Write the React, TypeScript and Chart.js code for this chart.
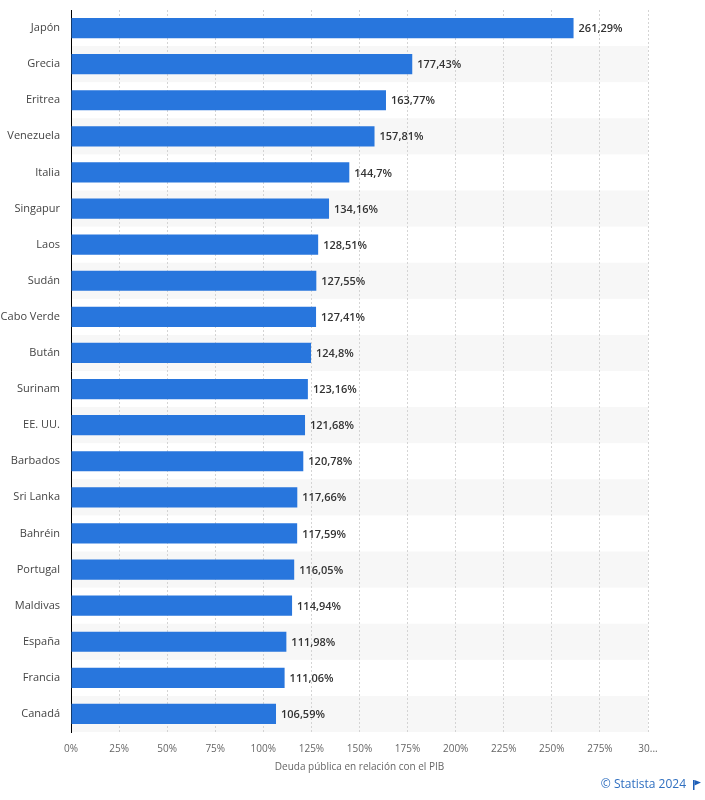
import React, { useEffect, useRef } from 'react';
import { Chart, registerables } from 'chart.js';

Chart.register(...registerables);

const countries = [
  'Japón', 'Grecia', 'Eritrea', 'Venezuela', 'Italia', 'Singapur', 'Laos', 'Sudán',
  'Cabo Verde', 'Bután', 'Surinam', 'EE. UU.', 'Barbados', 'Sri Lanka', 'Bahréin',
  'Portugal', 'Maldivas', 'España', 'Francia', 'Canadá',
];
const debtPct = [
  261.29, 177.43, 163.77, 157.81, 144.7, 134.16, 128.51, 127.55, 127.41, 124.8,
  123.16, 121.68, 120.78, 117.66, 117.59, 116.05, 114.94, 111.98, 111.06, 106.59,
];
const xTickLabels = ['0%', '25%', '50%', '75%', '100%', '125%', '150%', '175%', '200%', '225%', '250%', '275%', '30...'];
const axisTitle = 'Deuda pública en relación con el PIB';
const footerText = '© Statista 2024';

const FONT = "'Open Sans', 'DejaVu Sans', sans-serif";
const BAR_COLOR = '#2876dd';

const stripesPlugin = {
  id: 'stripes',
  beforeDraw(chart: any) {
    const { ctx, chartArea, scales } = chart;
    const y = scales.y;
    const n = countries.length;
    const step = (chartArea.bottom - chartArea.top) / n;
    ctx.save();
    ctx.fillStyle = '#f7f7f7';
    for (let i = 0; i < n; i++) {
      if (i % 2 === 1) {
        const c = y.getPixelForValue(i);
        ctx.fillRect(chartArea.left, c - step / 2, chartArea.right - chartArea.left, step);
      }
    }
    ctx.restore();
  },
};

const valueLabelPlugin = {
  id: 'valueLabels',
  afterDatasetsDraw(chart: any) {
    const { ctx } = chart;
    const meta = chart.getDatasetMeta(0);
    ctx.save();
    ctx.font = `600 11px ${FONT}`;
    ctx.fillStyle = '#333333';
    ctx.textAlign = 'left';
    ctx.textBaseline = 'middle';
    meta.data.forEach((bar: any, i: number) => {
      const txt = String(debtPct[i]).replace('.', ',') + '%';
      ctx.fillText(txt, bar.x + 5, bar.y + 1);
    });
    ctx.restore();
  },
};

const footerPlugin = {
  id: 'footer',
  afterDraw(chart: any) {
    const { ctx } = chart;
    ctx.save();
    ctx.font = `12px ${FONT}`;
    ctx.fillStyle = '#2f6fc0';
    ctx.textAlign = 'right';
    ctx.textBaseline = 'middle';
    ctx.fillText(footerText, 686, 785);
    ctx.fillStyle = '#1f5fb8';
    ctx.fillRect(693, 780, 1.5, 10);
    ctx.beginPath();
    ctx.moveTo(694.5, 780);
    ctx.lineTo(701, 782.5);
    ctx.lineTo(694.5, 785.5);
    ctx.closePath();
    ctx.fill();
    ctx.restore();
  },
};

export default function App() {
  const ref = useRef<HTMLCanvasElement | null>(null);

  useEffect(() => {
    document.body.style.margin = '0';
    if (!ref.current) return;
    const chart = new Chart(ref.current, {
      type: 'bar',
      data: {
        labels: countries,
        datasets: [
          {
            data: debtPct,
            backgroundColor: BAR_COLOR,
            borderWidth: 0,
            barPercentage: 0.56,
            categoryPercentage: 1,
          },
        ],
      },
      options: {
        indexAxis: 'y',
        responsive: false,
        animation: false,
        layout: { padding: { top: 10, right: 57, left: 0, bottom: 0 } },
        plugins: {
          legend: { display: false },
          tooltip: { enabled: false },
          title: { display: false },
        },
        scales: {
          x: {
            min: 0,
            max: 300,
            afterFit(scale: any) {
              scale.height = 68;
              scale.paddingLeft = 0;
              scale.paddingRight = 0;
            },
            ticks: {
              stepSize: 25,
              autoSkip: false,
              maxRotation: 0,
              padding: 11,
              color: '#666666',
              font: { family: FONT, size: 10 },
              callback: (_v: any, i: number) => xTickLabels[i],
            },
            grid: {
              color: '#d4d4d4',
              lineWidth: 1,
              drawTicks: false,
            },
            border: { display: false, dash: [2, 2] },
            title: {
              display: true,
              text: axisTitle,
              color: '#666666',
              font: { family: FONT, size: 10 },
              padding: { top: 0, bottom: 27 },
            },
          },
          y: {
            afterFit(scale: any) {
              scale.width = 71;
              scale.paddingTop = 0;
              scale.paddingBottom = 0;
            },
            ticks: {
              padding: 11,
              color: '#444444',
              font: { family: FONT, size: 11 },
              autoSkip: false,
            },
            grid: { display: false, drawTicks: false },
            border: { display: true, color: '#000000', width: 1 },
          },
        },
      },
      plugins: [stripesPlugin, valueLabelPlugin, footerPlugin],
    });
    return () => chart.destroy();
  }, []);

  return (
    <div style={{ width: 705, height: 800, background: '#ffffff' }}>
      <canvas ref={ref} width={705} height={800} />
    </div>
  );
}
